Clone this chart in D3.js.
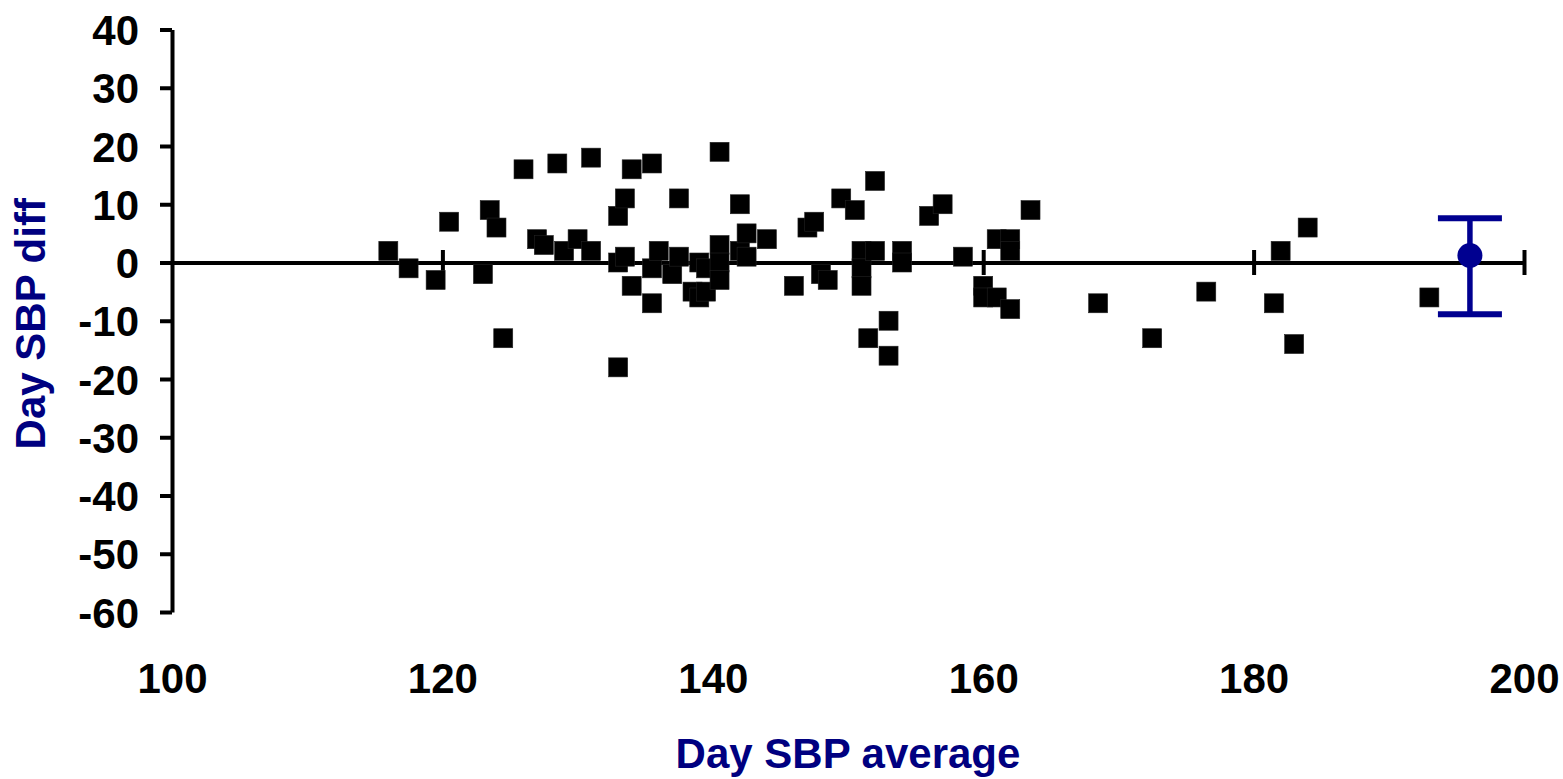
<!DOCTYPE html>
<html>
<head>
<meta charset="utf-8">
<script src="https://cdn.jsdelivr.net/npm/d3@7"></script>
<style>
  body { margin: 0; background: #fff; }
  text { font-family: "Liberation Sans", Arial, sans-serif; font-weight: bold; }
</style>
</head>
<body>
<script>
// Day SBP average (x) vs Day SBP diff (y)
var sbpAverage = [116, 117.5, 119.5, 120.5, 123, 123.5, 124, 124.5, 126, 127, 127.5, 128.5, 129, 130, 131, 131,
  133, 133, 133, 133.5, 133.5, 134, 134, 135.5, 135.5, 135.5, 136, 137, 137.5, 137.5,
  138.5, 139, 139, 139.5, 139.5, 140.5, 140.5, 140.5, 140.5, 142, 142, 142.5, 142.5, 144,
  146, 147, 147.5, 148, 148.5, 149.5, 150.5, 151, 151, 151, 151.5, 152, 152, 153, 153, 154, 154,
  156, 157, 158.5, 160, 160, 161, 161, 162, 162, 162, 163.5, 168.5, 172.5, 176.5,
  181.5, 182, 183, 184, 193];
var sbpDiff = [2, -1, -3, 7, -2, 9, 6, -13, 16, 4, 3, 17, 2, 4, 18, 2,
  8, 0, -18, 11, 1, -4, 16, 17, -1, -7, 2, -2, 11, 1,
  -5, 0, -6, -1, -5, 19, 3, 0, -3, 2, 10, 1, 5, 4,
  -4, 6, 7, -2, -3, 11, 9, 2, -1, -4, -13, 14, 2, -10, -16, 2, 0,
  8, 10, 1, -4, -6, 4, -6, 4, 2, -8, 9, -7, -13, -5,
  -7, 2, -14, 6, -6];

// summary point with error bar
var meanX = [196];
var meanY = [1.2];
var barHigh = [7.6];
var barLow = [-8.9];

var xTicks = [100, 120, 140, 160, 180, 200];
var yTicks = [40, 30, 20, 10, 0, -10, -20, -30, -40, -50, -60];

var svgWidth = 1563;
var svgHeight = 779;

var svg = d3.select("body")
  .append("svg")
  .attr("width", svgWidth)
  .attr("height", svgHeight);

var xScale = d3.scaleLinear().domain([100, 200]).range([172, 1524]);
var yScale = d3.scaleLinear().domain([-60, 40]).range([612, 29.5]);

// y axis on the left (plain hyphen for negatives)
var yAxis = d3.axisLeft(yScale)
  .tickValues(yTicks)
  .tickFormat(d => String(d))
  .tickSize(12)
  .tickSizeOuter(0)
  .tickPadding(21);

var yg = svg.append("g")
  .attr("transform", `translate(${xScale(100)}, 0)`)
  .call(yAxis);
yg.select(".domain").attr("stroke", "#000").attr("stroke-width", 4);
yg.selectAll(".tick line").attr("stroke", "#000").attr("stroke-width", 4);
yg.selectAll(".tick text")
  .attr("font-size", 42)
  .attr("fill", "#000")
  .attr("dy", "0.36em");

// x axis line sits at y = 0, with ticks crossing it
var xAxis = d3.axisBottom(xScale)
  .tickValues(xTicks.filter(d => d > 100))
  .tickSize(12.5)
  .tickSizeOuter(0)
  .tickFormat("");

var xg = svg.append("g")
  .attr("transform", `translate(0, ${yScale(0)})`)
  .call(xAxis);
xg.select(".domain").attr("stroke", "#000").attr("stroke-width", 4);
xg.selectAll(".tick line")
  .attr("y1", -12.5)
  .attr("y2", 12.5)
  .attr("stroke", "#000")
  .attr("stroke-width", 4);

// x tick labels along the bottom
var xLabelAxis = d3.axisBottom(xScale)
  .tickValues(xTicks)
  .tickFormat(d => String(d))
  .tickSize(0)
  .tickPadding(0);

var xl = svg.append("g")
  .attr("transform", "translate(0, 693)")
  .call(xLabelAxis);
xl.select(".domain").remove();
xl.selectAll(".tick text")
  .attr("y", 0)
  .attr("dy", 0)
  .attr("font-size", 42)
  .attr("fill", "#000");

// data squares
var pts = sbpAverage.map((d, i) => ({ x: d, y: sbpDiff[i] }));
var size = 19;
svg.append("g")
  .selectAll("rect")
  .data(pts)
  .enter()
  .append("rect")
  .attr("x", d => xScale(d.x) - size / 2)
  .attr("y", d => yScale(d.y) - size / 2)
  .attr("width", size)
  .attr("height", size)
  .attr("fill", "#000")
  .attr("stroke", "#222")
  .attr("stroke-width", 0.6);

// mean with error bar
var blue = "#000090";
var bar = svg.append("g");
var capHalf = 32;
bar.append("line")
  .attr("x1", xScale(meanX[0])).attr("x2", xScale(meanX[0]))
  .attr("y1", yScale(barHigh[0])).attr("y2", yScale(barLow[0]))
  .attr("stroke", blue).attr("stroke-width", 5.5);
[barHigh[0], barLow[0]].forEach(v => {
  bar.append("line")
    .attr("x1", xScale(meanX[0]) - capHalf).attr("x2", xScale(meanX[0]) + capHalf)
    .attr("y1", yScale(v)).attr("y2", yScale(v))
    .attr("stroke", blue).attr("stroke-width", 6);
});
bar.append("circle")
  .attr("cx", xScale(meanX[0]))
  .attr("cy", yScale(meanY[0]))
  .attr("r", 12.5)
  .attr("fill", blue);

// axis titles
svg.append("text")
  .attr("x", (xScale(100) + xScale(200)) / 2)
  .attr("y", 768)
  .attr("text-anchor", "middle")
  .attr("font-size", 42)
  .attr("fill", "#000080")
  .text("Day SBP average");

svg.append("text")
  .attr("transform", `translate(45, ${(yScale(40) + yScale(-60)) / 2 + 3}) rotate(-90)`)
  .attr("text-anchor", "middle")
  .attr("font-size", 42)
  .attr("fill", "#000080")
  .text("Day SBP diff");
</script>
</body>
</html>
